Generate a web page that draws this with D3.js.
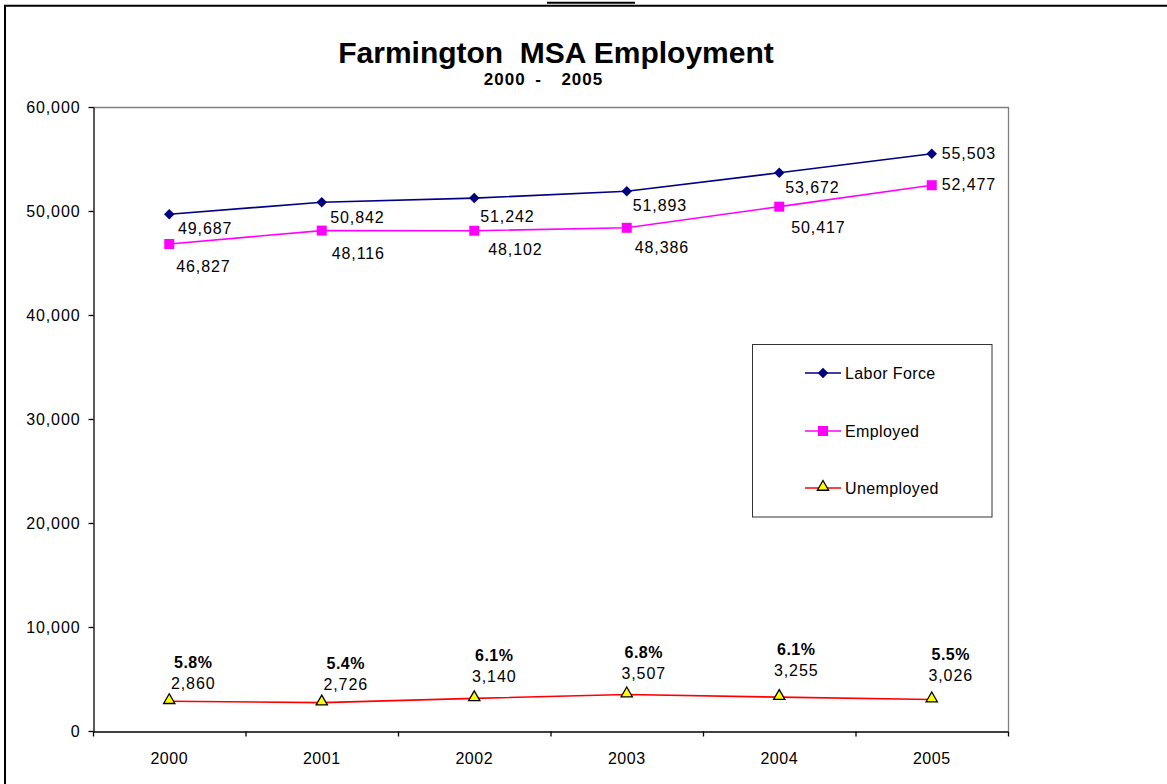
<!DOCTYPE html>
<html>
<head>
<meta charset="utf-8">
<script src="https://cdn.jsdelivr.net/npm/d3@7"></script>
<style>
  html, body { margin: 0; padding: 0; background: #fff; }
  svg { display: block; font-family: "Liberation Sans", Arial, sans-serif; }
</style>
</head>
<body>
<svg id="chart" width="1167" height="784"></svg>
<script>
// data
var years = ["2000", "2001", "2002", "2003", "2004", "2005"];
var laborForce = [49687, 50842, 51242, 51893, 53672, 55503];
var employed = [46827, 48116, 48102, 48386, 50417, 52477];
var unemployed = [2860, 2726, 3140, 3507, 3255, 3026];
var unempRate = ["5.8%", "5.4%", "6.1%", "6.8%", "6.1%", "5.5%"];
var yTicks = [0, 10000, 20000, 30000, 40000, 50000, 60000];

// label nudges (px from marker), as placed in the original
var laborDx = [8.7, 8.5, 6, 6, 6, 10], laborDy = [20, 20.5, 23.5, 19.4, 20.5, 5.5];
var emplDx = [7, 10, 14, 8, 12, 10], emplDy = [27.7, 28.7, 24.3, 25.5, 26.6, 5];
var unDx = [24, 24, 20, 17, 17, 19], unDy = [-12.5, -13, -16, -15.5, -21, -18.5];

var svg = d3.select("#chart");

var plotL = 93, plotR = 1008, plotT = 107, plotB = 731;

var x = d3.scaleBand().domain(years).range([plotL, plotR]).padding(0);
var y = d3.scaleLinear().domain([0, 60000]).range([plotB, plotT]);
var cx = function(d) { return x(d) + x.bandwidth() / 2; };

// page frame
svg.append("line").attr("x1", 5).attr("x2", 5).attr("y1", 5).attr("y2", 784)
    .attr("stroke", "#000").attr("stroke-width", 2);
svg.append("line").attr("x1", 4).attr("x2", 1167).attr("y1", 5.7).attr("y2", 5.7)
    .attr("stroke", "#000").attr("stroke-width", 2);
svg.append("line").attr("x1", 547).attr("x2", 635).attr("y1", 2.8).attr("y2", 2.8)
    .attr("stroke", "#000").attr("stroke-width", 2);

// titles
svg.append("text").attr("x", 556).attr("y", 63).attr("text-anchor", "middle")
    .style("white-space", "pre")
    .attr("font-size", 30).attr("font-weight", "bold")
    .text("Farmington  MSA Employment");
svg.append("text").attr("x", 543.5).attr("y", 85).attr("text-anchor", "middle")
    .style("white-space", "pre")
    .attr("font-size", 17).attr("font-weight", "bold")
    .attr("letter-spacing", 1).attr("word-spacing", 4)
    .text("2000 -  2005");

// plot border (top / right, grey)
svg.append("path")
    .attr("d", "M" + plotL + "," + (plotT + 0.5) + "H" + (plotR + 0.5) + "V" + plotB)
    .attr("fill", "none").attr("stroke", "#808080").attr("stroke-width", 1.3);

// y axis
var yAxis = d3.axisLeft(y).tickValues(yTicks).tickFormat(d3.format(","))
    .tickSizeOuter(0).tickSizeInner(5).tickPadding(8);
var gy = svg.append("g").attr("transform", "translate(" + (plotL + 0.5) + ",0)").call(yAxis);
gy.select(".domain").attr("stroke", "#000").attr("stroke-width", 1.3);
gy.selectAll(".tick line").attr("stroke", "#000").attr("stroke-width", 1.3);
gy.selectAll(".tick text").attr("font-size", 16).attr("letter-spacing", 0.9)
    .attr("font-family", "Liberation Sans, Arial, sans-serif").attr("fill", "#000")
    .attr("dy", "0.36em");

// x axis: labels centred, ticks between categories
var xAxis = d3.axisBottom(x).tickSize(0).tickPadding(21);
var gx = svg.append("g").attr("transform", "translate(0," + (plotB + 0.5) + ")").call(xAxis);
gx.select(".domain").attr("stroke", "#000").attr("stroke-width", 1.3);
gx.selectAll(".tick text").attr("font-size", 16).attr("letter-spacing", 0.5)
    .attr("font-family", "Liberation Sans, Arial, sans-serif").attr("fill", "#000");
var bounds = years.map(function(d) { return x(d); }).concat([plotR]);
gx.selectAll(".bound").data(bounds).enter().append("line")
    .attr("class", "bound")
    .attr("x1", function(d) { return d + 0.5; }).attr("x2", function(d) { return d + 0.5; })
    .attr("y1", 0).attr("y2", 5)
    .attr("stroke", "#000").attr("stroke-width", 1.3);

var line = d3.line().x(function(d, i) { return cx(years[i]); }).y(function(d) { return y(d); });

function drawSeries(values, color) {
    svg.append("path").datum(values).attr("d", line)
        .attr("fill", "none").attr("stroke", color).attr("stroke-width", 1.6);
}
drawSeries(laborForce, "#000080");
drawSeries(employed, "#ff00ff");
drawSeries(unemployed, "#ff0000");

var diamond = d3.symbol().type(d3.symbolDiamond2).size(70);
var square = d3.symbol().type(d3.symbolSquare).size(100);
var triangle = d3.symbol().type(d3.symbolTriangle).size(55);

svg.selectAll(".mLabor").data(laborForce).enter().append("path")
    .attr("class", "mLabor")
    .attr("d", diamond)
    .attr("transform", function(d, i) { return "translate(" + cx(years[i]) + "," + y(d) + ")"; })
    .attr("fill", "#000080");
svg.selectAll(".mEmpl").data(employed).enter().append("path")
    .attr("class", "mEmpl")
    .attr("d", square)
    .attr("transform", function(d, i) { return "translate(" + cx(years[i]) + "," + y(d) + ")"; })
    .attr("fill", "#ff00ff");
svg.selectAll(".mUn").data(unemployed).enter().append("path")
    .attr("class", "mUn")
    .attr("d", triangle)
    .attr("transform", function(d, i) { return "translate(" + cx(years[i]) + "," + (y(d) - 1) + ")"; })
    .attr("fill", "#ffff00").attr("stroke", "#000").attr("stroke-width", 1.3);

// data labels
var fmt = d3.format(",");
function labels(values, dx, dy, anchorList) {
    svg.append("g").selectAll("text").data(values).enter().append("text")
        .attr("x", function(d, i) { return cx(years[i]) + dx[i]; })
        .attr("y", function(d, i) { return y(d) + dy[i]; })
        .attr("font-size", 16).attr("letter-spacing", 0.9)
        .attr("text-anchor", anchorList)
        .text(function(d) { return fmt(d); });
}
labels(laborForce, laborDx, laborDy, "start");
labels(employed, emplDx, emplDy, "start");
labels(unemployed, unDx, unDy, "middle");

svg.append("g").selectAll("text").data(unempRate).enter().append("text")
    .attr("x", function(d, i) { return cx(years[i]) + unDx[i]; })
    .attr("y", function(d, i) { return y(unemployed[i]) + unDy[i] - 21; })
    .attr("font-size", 16).attr("font-weight", "bold").attr("letter-spacing", 0.5)
    .attr("text-anchor", "middle")
    .text(function(d) { return d; });

// legend
var legendItems = ["Labor Force", "Employed", "Unemployed"];
var legendColors = ["#000080", "#ff00ff", "#ff0000"];
var legendSymbols = [diamond, square, triangle];
var legendFills = ["#000080", "#ff00ff", "#ffff00"];
var legendY = [373, 431, 488];

var lg = svg.append("g");
lg.append("rect").attr("x", 752.5).attr("y", 344.5).attr("width", 239.5).attr("height", 172.5)
    .attr("fill", "#fff").attr("stroke", "#333").attr("stroke-width", 1);
legendItems.forEach(function(name, i) {
    lg.append("line").attr("x1", 805).attr("x2", 841)
        .attr("y1", legendY[i]).attr("y2", legendY[i])
        .attr("stroke", legendColors[i]).attr("stroke-width", 1.6);
    var s = lg.append("path").attr("d", legendSymbols[i])
        .attr("transform", "translate(823," + (legendY[i] - (i === 2 ? 1 : 0)) + ")")
        .attr("fill", legendFills[i]);
    if (i === 2) s.attr("stroke", "#000").attr("stroke-width", 1.3);
    lg.append("text").attr("x", 845).attr("y", legendY[i]).attr("dy", "0.36em")
        .attr("font-size", 16).attr("letter-spacing", 0.4)
        .text(name);
});
</script>
</body>
</html>
